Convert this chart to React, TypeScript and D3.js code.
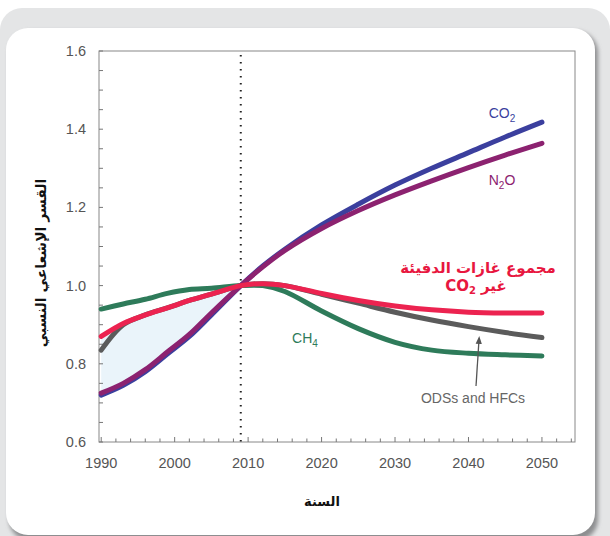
import React from 'react';
import * as d3 from 'd3';

// years
const years = [1990, 1993, 1996, 1999, 2002, 2005, 2009, 2012, 2015, 2020, 2025, 2030, 2035, 2040, 2045, 2050];
const co2 = [0.72, 0.745, 0.78, 0.825, 0.87, 0.925, 1.0, 1.05, 1.093, 1.155, 1.208, 1.257, 1.3, 1.34, 1.38, 1.418];
const n2o = [0.725, 0.75, 0.785, 0.83, 0.875, 0.93, 1.0, 1.048, 1.09, 1.146, 1.192, 1.232, 1.268, 1.302, 1.334, 1.364];
const ch4 = [0.94, 0.953, 0.965, 0.98, 0.99, 0.993, 1.0, 1.0, 0.985, 0.935, 0.89, 0.855, 0.835, 0.827, 0.823, 0.82];
const nonCo2 = [0.87, 0.903, 0.925, 0.943, 0.962, 0.978, 1.0, 1.005, 1.0, 0.98, 0.962, 0.948, 0.938, 0.932, 0.93, 0.93];
const odsHfc = [0.835, 0.9, 0.925, 0.943, 0.962, 0.978, 1.0, 1.005, 1.0, 0.978, 0.955, 0.932, 0.912, 0.895, 0.88, 0.867];

const xTickLabels = [1990, 2000, 2010, 2020, 2030, 2040, 2050];
const yTickLabels = [0.6, 0.8, 1.0, 1.2, 1.4, 1.6];
const refYear = 2009;

const LATIN = 'Liberation Sans, Arial, sans-serif';
const ARABIC = 'DejaVu Sans, sans-serif';

const App = () => {
    const x = d3.scaleLinear().domain([1989.7, 2054.5]).range([99, 575]);
    const y = d3.scaleLinear().domain([0.6, 1.6]).range([442, 51]);

    const path = (vals: number[]) => d3.line<number>()
        .x((_, i) => x(years[i]))
        .y(d => y(d))
        .curve(d3.curveCatmullRom.alpha(0.5))(vals);

    // shaded band between non-CO2 total and CO2 up to the reference year
    const histIdx = years.map((yr, i) => i).filter(i => years[i] <= refYear);
    const band = d3.area<number>()
        .x(i => x(years[i]))
        .y0(i => y(co2[i]))
        .y1(i => y(nonCo2[i]))
        .curve(d3.curveCatmullRom.alpha(0.5))(histIdx);

    const [x0, x1] = x.range();
    const [yb, yt] = y.range();

    return (
        <svg width={610} height={536} style={{ position: 'absolute', left: 0, top: 0 }}>
            <defs>
                <filter id="shadow" x="-5%" y="-5%" width="110%" height="110%">
                    <feGaussianBlur stdDeviation="2" />
                </filter>
                <marker id="arrow" viewBox="0 0 10 10" refX="5" refY="5" markerWidth="6" markerHeight="6" orient="auto">
                    <path d="M0,1 L10,5 L0,9 z" fill="#555" />
                </marker>
            </defs>

            <rect x={0} y={8} width={610} height={570} rx={22} fill="#e4e5e6" />
            <rect x={9} y={31} width={589} height={510} rx={22} fill="#8d8e90" filter="url(#shadow)" />
            <rect x={6} y={28} width={589} height={507} rx={22} fill="#fff" />

            <path d={band || ''} fill="#eaf4fa" />

            {/* frame */}
            <rect x={x0} y={yt} width={x1 - x0} height={yb - yt} fill="none" stroke="#888" strokeWidth={1} />

            {/* x ticks, every 2 years, inward */}
            {d3.range(1990, 2055, 2).map(yr => (
                <line key={yr} x1={x(yr)} x2={x(yr)} y1={yb} y2={yb - (yr % 10 === 0 ? 5 : 3.5)} stroke="#777" />
            ))}
            {/* y ticks, every 0.05, inward */}
            {d3.range(0.6, 1.601, 0.05).map(v => (
                <line key={v} x1={x0} x2={x0 + 4} y1={y(v)} y2={y(v)} stroke="#777" />
            ))}

            {xTickLabels.map(yr => (
                <text key={yr} x={x(yr)} y={yb + 26} textAnchor="middle" fontFamily={LATIN} fontSize={14.5} fill="#555">{yr}</text>
            ))}
            {yTickLabels.map(v => (
                <text key={v} x={86} y={y(v) + 5} textAnchor="end" fontFamily={LATIN} fontSize={14.5} fill="#555">{v.toFixed(1)}</text>
            ))}

            <line x1={x(refYear)} x2={x(refYear)} y1={yt + 4} y2={yb} stroke="#222" strokeWidth={2}
                strokeDasharray="1.5 5.5" />

            <g fill="none" strokeWidth={5} strokeLinecap="round" strokeLinejoin="round">
                <path d={path(odsHfc) || ''} stroke="#5b5b5b" />
                <path d={path(ch4) || ''} stroke="#2e7b5a" />
                <path d={path(co2) || ''} stroke="#3b3f9e" />
                <path d={path(n2o) || ''} stroke="#8c2270" />
                <path d={path(nonCo2) || ''} stroke="#ec2350" />
            </g>

            {/* series labels */}
            <text x={502} y={118} textAnchor="middle" fontFamily={LATIN} fontSize={14} fill="#3b3f9e">
                CO<tspan fontSize={10} dy={4}>2</tspan>
            </text>
            <text x={502} y={185} textAnchor="middle" fontFamily={LATIN} fontSize={14} fill="#8c2270">
                N<tspan fontSize={10} dy={4}>2</tspan><tspan dy={-4}>O</tspan>
            </text>
            <text x={305} y={343} textAnchor="middle" fontFamily={LATIN} fontSize={14} fill="#2e7b5a">
                CH<tspan fontSize={10} dy={4}>4</tspan>
            </text>
            <text x={473} y={403} textAnchor="middle" fontFamily={LATIN} fontSize={14} fill="#666">ODSs and HFCs</text>
            <line x1={476} y1={386} x2={479} y2={340} stroke="#555" strokeWidth={1.3} markerEnd="url(#arrow)" />

            <text x={478} y={273} textAnchor="middle" fontFamily={ARABIC} fontWeight="bold" fontSize={15}
                fill="#e8173f" direction="rtl">مجموع غازات الدفيئة</text>
            <text x={476} y={291} textAnchor="end" fontFamily={ARABIC} fontWeight="bold" fontSize={15} fill="#e8173f">
                CO<tspan fontSize={10} dy={3}>2</tspan>
            </text>
            <text x={481} y={291} textAnchor="start" fontFamily={ARABIC} fontWeight="bold" fontSize={15}
                fill="#e8173f">غير</text>

            {/* axis titles */}
            <text transform="translate(46,263) rotate(-90)" textAnchor="middle" fontFamily={ARABIC} fontWeight="bold"
                fontSize={14} fill="#111" direction="rtl">القسر الإشعاعي النسبي</text>
            <text x={322} y={506} textAnchor="middle" fontFamily={ARABIC} fontWeight="bold" fontSize={13}
                fill="#111" direction="rtl">السنة</text>
        </svg>
    );
};

export default App;
